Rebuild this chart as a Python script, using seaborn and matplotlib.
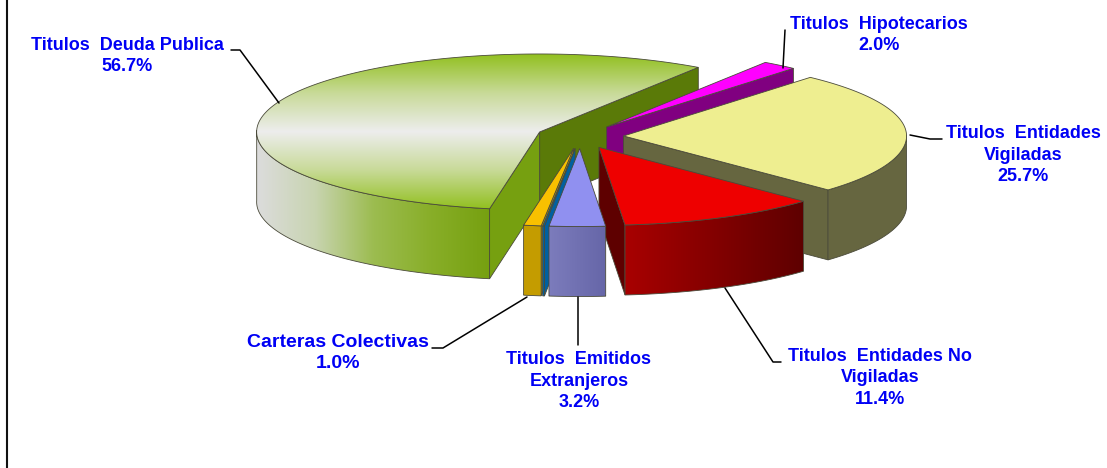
#!/usr/bin/env python3
"""Exploded 3D style pie of the portfolio composition, drawn on a pixel sized axes."""

import numpy as np
import matplotlib.pyplot as plt
import seaborn as sns
from matplotlib.patches import Polygon

# Slices in clockwise order, starting at the back edge of Titulos Deuda Publica
slice_names = ["Hipotecarios", "Vigiladas", "No Vigiladas", "Extranjeros", "Otros", "Carteras", "Deuda"]
slice_values = [2.0, 25.7, 11.4, 3.2, 0.1, 1.0, 56.7]
slice_labels = [
    "Titulos  Hipotecarios\n2.0%",
    "Titulos  Entidades\nVigiladas\n25.7%",
    "Titulos  Entidades No\nVigiladas\n11.4%",
    "Titulos  Emitidos\nExtranjeros\n3.2%",
    None,
    "Carteras Colectivas\n1.0%",
    "Titulos  Deuda Publica\n56.7%",
]

# Pie geometry in figure pixels
CENTER = (580, 136.5)
RX, RY = 283, 78
DEPTH = 70
EXPLODE = 0.154
START_ANGLE = 55.9

LABEL_BLUE = "#0000F5"
EDGE = "#4a4a3a"

# style per slice: top stops, wall stops, cut face colours (low angle, high angle)
STYLES = {
    "Hipotecarios": (["#FF00FF"], ["#800080"], "#800080", "#800080"),
    "Vigiladas": (["#EEEE90"], ["#666640"], "#666640", "#666640"),
    "No Vigiladas": (["#EE0000"], ["#A80000", "#5E0000"], "#5E0000", "#5E0000"),
    "Extranjeros": (["#9090F0"], ["#7C7CBC", "#6666A8"], "#6666A8", "#6666A8"),
    "Otros": (["#0060A8"], ["#0060A0"], "#0060A0", "#0060A0"),
    "Carteras": (["#F8C000"], ["#C49C00"], "#C49C00", "#C49C00"),
    "Deuda": (["#92C020", "#C8DA98", "#EDEDED", "#C8DA98", "#92C020"],
              ["#DCDCDC", "#C8D4B0", "#9CBC50", "#88AE28", "#76A010"],
              "#5A7A08", "#76A010"),
}
DRAW_ORDER = ["Deuda", "Hipotecarios", "Vigiladas", "No Vigiladas", "Carteras", "Otros", "Extranjeros"]

LABEL_POS = {
    "Deuda": (127, 56),
    "Hipotecarios": (879, 35),
    "Vigiladas": (1023, 155),
    "No Vigiladas": (880, 378),
    "Extranjeros": (579, 381),
    "Carteras": (338, 353),
}
LABEL_SIZE = {"Carteras": 14}
LEADERS = [
    [(231, 50), (240, 50), (279, 103)],
    [(785, 30), (783, 68)],
    [(910, 135), (930, 139), (942, 139)],
    [(725, 288), (773, 362), (781, 362)],
    [(578, 297), (578, 345)],
    [(527, 297), (443, 348), (432, 348)],
]


def slice_angles():
    """Return (high, low) angle of every slice going clockwise from START_ANGLE."""
    spans = np.array(slice_values) / np.sum(slice_values) * 360
    ends = START_ANGLE - np.cumsum(spans)
    starts = np.concatenate(([START_ANGLE], ends[:-1]))
    return starts, ends


def rim(apex, angles):
    rad = np.radians(angles)
    return np.column_stack((apex[0] + RX * np.cos(rad), apex[1] - RY * np.sin(rad)))


def fill_shape(ax, points, stops, vertical=False, zorder=1):
    """Fill a polygon with a flat colour or a seaborn blended gradient."""
    if len(stops) == 1:
        ax.add_patch(Polygon(points, closed=True, facecolor=stops[0], edgecolor=EDGE,
                             linewidth=0.6, zorder=zorder))
        return
    outline = Polygon(points, closed=True, fill=False, edgecolor=EDGE, linewidth=0.6, zorder=zorder + 0.1)
    ax.add_patch(outline)
    colors = np.array(sns.blend_palette(stops, n_colors=256))
    grad = colors[:, None, :] if vertical else colors[None, :, :]
    x0, y0 = points.min(axis=0)
    x1, y1 = points.max(axis=0)
    img = ax.imshow(grad, extent=(x0, x1, y1, y0), aspect="auto", interpolation="bilinear", zorder=zorder)
    img.set_clip_path(outline)


def draw_slice(ax, name, high, low, layer):
    top_stops, wall_stops, low_face, high_face = STYLES[name]
    mid = np.radians((high + low) / 2)
    apex = (CENTER[0] + EXPLODE * RX * np.cos(mid), CENTER[1] - EXPLODE * RY * np.sin(mid))
    drop = np.array([0, DEPTH])

    # cut faces that look towards the viewer
    for angle, color, visible in ((low, low_face, np.cos(np.radians(low)) > 0),
                                  (high, high_face, np.cos(np.radians(high)) < 0)):
        if visible:
            tip = rim(apex, [angle])[0]
            quad = np.array([apex, tip, tip + drop, np.array(apex) + drop])
            fill_shape(ax, quad, [color], zorder=layer)

    # outer wall, only the front half of the rim is seen
    arc = np.linspace(high, low, 200)
    seen = arc[np.sin(np.radians(arc)) <= 0.02]
    if len(seen) > 1:
        edge = rim(apex, seen)
        wall = np.vstack((edge, (edge + drop)[::-1]))
        fill_shape(ax, wall, wall_stops, zorder=layer + 0.2)

    # top surface
    top = np.vstack(([apex], rim(apex, arc)))
    fill_shape(ax, top, top_stops, vertical=True, zorder=layer + 0.4)


def create_chart(output_file="out.png"):
    sns.set_theme(style="white")
    plt.rcParams["font.family"] = ["Liberation Sans", "DejaVu Sans"]

    fig = plt.figure(figsize=(11.07, 4.68), dpi=100, facecolor="white")
    ax = fig.add_axes([0, 0, 1, 1])

    starts, ends = slice_angles()
    for layer, name in enumerate(DRAW_ORDER):
        i = slice_names.index(name)
        draw_slice(ax, name, starts[i], ends[i], layer + 1)

    for points in LEADERS:
        xs, ys = zip(*points)
        ax.plot(xs, ys, color="black", linewidth=1.1, zorder=20)

    for name, label in zip(slice_names, slice_labels):
        if label is None:
            continue
        x, y = LABEL_POS[name]
        ax.text(x, y, label, color=LABEL_BLUE, fontsize=LABEL_SIZE.get(name, 13), fontweight="bold",
                ha="center", va="center", linespacing=1.33, zorder=21)

    ax.set_xlim(0, 1107)
    ax.set_ylim(468, 0)
    ax.set_xticks([])
    ax.set_yticks([])
    for side in ["top", "right", "bottom"]:
        ax.spines[side].set_visible(False)
    ax.spines["left"].set_position(("data", 7))
    ax.spines["left"].set_color("#111111")
    ax.spines["left"].set_linewidth(1.5)

    fig.savefig(output_file, dpi=100, facecolor="white")


if __name__ == "__main__":
    create_chart()
